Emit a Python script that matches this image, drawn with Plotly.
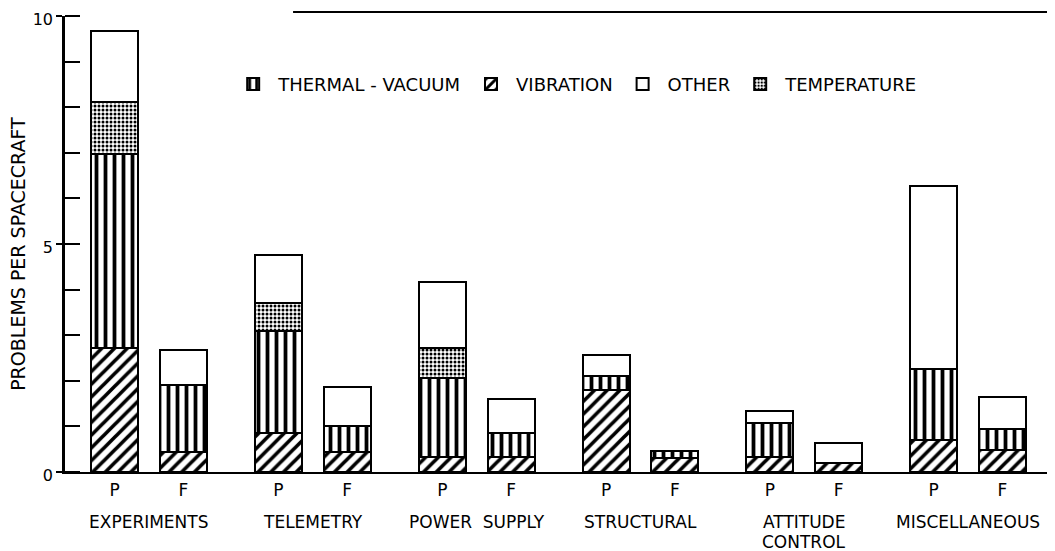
import plotly.graph_objects as go

# ---- data ----
groups = ["EXPERIMENTS", "TELEMETRY", "POWER  SUPPLY", "STRUCTURAL", "ATTITUDE<br>CONTROL", "MISCELLANEOUS"]
phases = ["P", "F"]
# values per bar, order: group0 P, group0 F, group1 P, ...
vibration      = [2.72, 0.44, 0.86, 0.44, 0.33, 0.33, 1.80, 0.31, 0.33, 0.20, 0.70, 0.48]
thermal_vacuum = [4.25, 1.47, 2.23, 0.57, 1.73, 0.53, 0.31, 0.15, 0.74, 0.00, 1.56, 0.46]
temperature    = [1.14, 0.00, 0.62, 0.00, 0.66, 0.00, 0.00, 0.00, 0.00, 0.00, 0.00, 0.00]
other          = [1.56, 0.77, 1.05, 0.85, 1.45, 0.74, 0.46, 0.00, 0.27, 0.44, 4.01, 0.70]
y_ticks = [0, 5, 10]
y_title = "PROBLEMS PER SPACECRAFT"

# ---- layout helpers ----
OFFSET = 0.21
BARW = 0.287
xpos = []
xlab = []
for gi, _ in enumerate(groups):
    for pi, ph in enumerate(phases):
        xpos.append(gi + (-OFFSET if pi == 0 else OFFSET))
        xlab.append(ph)

FONT = "DejaVu Sans, sans-serif"

def nz(v):
    return [x if x > 0 else None for x in v]

line = dict(color="black", width=2)
fig = go.Figure()
fig.add_trace(go.Bar(x=xpos, y=nz(vibration), name="VIBRATION", width=BARW, legendrank=2,
                     marker=dict(color="white", line=line,
                                 pattern=dict(shape="/", fgcolor="black", bgcolor="white", fgopacity=1,
                                              size=9, solidity=0.4))))
fig.add_trace(go.Bar(x=xpos, y=nz(thermal_vacuum), name="THERMAL - VACUUM", width=BARW, legendrank=1,
                     marker=dict(color="white", line=line,
                                 pattern=dict(shape="|", fgcolor="black", bgcolor="white", fgopacity=1,
                                              size=9, solidity=0.42))))
fig.add_trace(go.Bar(x=xpos, y=nz(temperature), name="TEMPERATURE", width=BARW, legendrank=4,
                     marker=dict(color="white", line=line,
                                 pattern=dict(shape=".", fgcolor="black", bgcolor="white", fgopacity=1,
                                              size=4, solidity=0.45))))
fig.add_trace(go.Bar(x=xpos, y=nz(other), name="OTHER", width=BARW, legendrank=3,
                     marker=dict(color="white", line=line)))

# The page body has an 8px margin, so the figure is shrunk by 8px and margins shifted.
fig.update_layout(
    barmode="stack",
    width=1047, height=543,
    margin=dict(l=57, r=7, t=8, b=79),
    paper_bgcolor="white", plot_bgcolor="white",
    font=dict(family=FONT, size=17, color="black"),
    showlegend=True,
    legend=dict(orientation="h", traceorder="normal", x=0.166, y=0.85, xanchor="left", yanchor="middle",
                font=dict(size=18), bgcolor="rgba(0,0,0,0)", itemclick=False, itemwidth=40),
    xaxis=dict(range=[-0.513, 5.488], tickvals=xpos, ticktext=xlab, showgrid=False, zeroline=False,
               showline=True, linecolor="black", linewidth=2, ticks="", ticklabelstandoff=2,
               tickfont=dict(size=17), automargin=False),
    yaxis=dict(range=[0, 10], tickvals=y_ticks, showgrid=False, zeroline=False, automargin=False,
               showline=True, linecolor="black", linewidth=2.5,
               ticks="outside", ticklen=6, tickwidth=2, tickcolor="black",
               minor=dict(dtick=1, ticks="inside", ticklen=15, tickwidth=2, tickcolor="black"),
               tickfont=dict(size=16), ticklabeloverflow="allow", ticklabelshift=3),
)

# y-axis title
fig.add_annotation(x=-0.048, y=0.478, xref="paper", yref="paper", text=y_title, textangle=-90,
                   showarrow=False, xanchor="center", yanchor="middle", font=dict(size=19))

# group labels (multi-line labels split into stacked annotations)
for gi, g in enumerate(groups):
    for li, part in enumerate(g.split("<br>")):
        fig.add_annotation(x=gi, y=0, xref="x", yref="y", text=part, showarrow=False,
                           yanchor="middle", yshift=-50 - 20 * li, font=dict(size=17), align="center")

# frame lines (top partial + right side)
fig.add_shape(type="line", xref="paper", yref="paper", x0=0.232, x1=1, y0=1.009, y1=1.009,
              line=dict(color="black", width=2))
fig.add_shape(type="line", xref="paper", yref="paper", x0=1, x1=1, y0=0, y1=1.009,
              line=dict(color="black", width=2))

fig.write_html("out.html")
